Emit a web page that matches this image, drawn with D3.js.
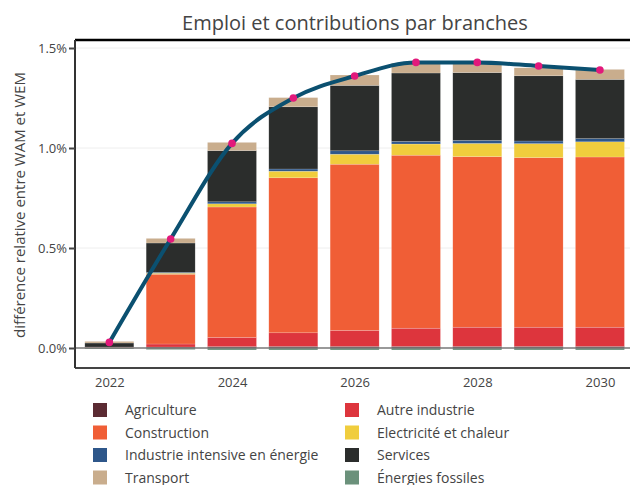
<!DOCTYPE html>
<html><head><meta charset="utf-8">
<script src="https://cdn.jsdelivr.net/npm/d3@7"></script>
<style>
html,body{margin:0;padding:0;background:#fff;}
svg{display:block;font-family:"Open Sans",sans-serif;}
</style></head>
<body>
<svg id="chart" width="630" height="485"></svg>
<script>
// ---- data (values in %) ----
const years = [2022, 2023, 2024, 2025, 2026, 2027, 2028, 2029, 2030];
const agriculture        = [0.003, 0.005, 0.007, 0.008, 0.008, 0.008, 0.008, 0.008, 0.008];
const autreIndustrie     = [0.001, 0.015, 0.046, 0.068, 0.080, 0.091, 0.096, 0.096, 0.096];
const construction       = [0.001, 0.349, 0.652, 0.775, 0.831, 0.865, 0.853, 0.848, 0.851];
const electricite        = [0.000, 0.005, 0.016, 0.033, 0.050, 0.056, 0.066, 0.070, 0.076];
const industrieIntensive = [0.000, 0.004, 0.010, 0.011, 0.017, 0.013, 0.015, 0.013, 0.016];
const services           = [0.020, 0.147, 0.256, 0.311, 0.327, 0.342, 0.339, 0.326, 0.296];
const transport          = [0.008, 0.023, 0.041, 0.046, 0.052, 0.050, 0.050, 0.040, 0.050];
const energiesFossiles   = [-0.005, -0.008, -0.010, -0.010, -0.010, -0.010, -0.010, -0.010, -0.010];
const total              = [0.028, 0.545, 1.023, 1.250, 1.360, 1.428, 1.428, 1.410, 1.390];

const seriesNames = ["Agriculture", "Autre industrie", "Construction", "Electricité et chaleur",
  "Industrie intensive en énergie", "Services", "Transport", "Énergies fossiles"];
const seriesValues = [agriculture, autreIndustrie, construction, electricite,
  industrieIntensive, services, transport, energiesFossiles];
const seriesColors = ["#5b2b33", "#dd353d", "#f05e36", "#f0cd3d", "#2e578a", "#2b2d2c", "#c9ad8d", "#6b917b"];

const yTicks = [0, 0.5, 1.0, 1.5];
const xTicks = [2022, 2024, 2026, 2028, 2030];
const titleText = "Emploi et contributions par branches";
const yTitle = "différence relative entre WAM et WEM";

// ---- layout ----
const svg = d3.select("#chart");
const L = 75, R = 630, T = 40, B = 368;

const x = d3.scaleLinear().domain([2021.44, 2030.5]).range([L, R + 0.6]);
const y = d3.scaleLinear().domain([-0.1, 1.54]).range([B, T]);
const barW = 49;

// gridlines
svg.append("g").selectAll("line").data(yTicks.filter(d => d !== 0)).join("line")
  .attr("x1", L).attr("x2", R).attr("y1", d => y(d)).attr("y2", d => y(d))
  .attr("stroke", "#eee").attr("stroke-width", 1);

// stacked bars
const rows = years.map((yr, i) => {
  const o = {year: yr};
  seriesNames.forEach((n, k) => o[n] = seriesValues[k][i]);
  return o;
});
const stack = d3.stack().keys(seriesNames).offset(d3.stackOffsetDiverging);
const stacked = stack(rows);

const gBars = svg.append("g");
stacked.forEach((s, k) => {
  gBars.append("g").attr("fill", seriesColors[k])
    .selectAll("rect").data(s).join("rect")
    .attr("x", d => x(d.data.year) - barW / 2)
    .attr("width", barW)
    .attr("y", d => y(Math.max(d[0], d[1])))
    .attr("height", d => Math.abs(y(d[0]) - y(d[1])))
    .attr("stroke", "rgba(255,255,255,0.35)")
    .attr("stroke-width", 0.5);
});

// zero line
svg.append("line").attr("x1", L).attr("x2", R).attr("y1", y(0)).attr("y2", y(0))
  .attr("stroke", "#777").attr("stroke-width", 1.5);

// line
const line = d3.line().x((d, i) => x(years[i])).y(d => y(d)).curve(d3.curveMonotoneX);
svg.append("path").datum(total).attr("d", line)
  .attr("fill", "none").attr("stroke", "#0b5070").attr("stroke-width", 4)
  .attr("stroke-linejoin", "round");
svg.append("g").selectAll("circle").data(total).join("circle")
  .attr("cx", (d, i) => x(years[i])).attr("cy", d => y(d)).attr("r", 3.8)
  .attr("fill", "#e2197b");

// axes frame
svg.append("line").attr("x1", L).attr("x2", R).attr("y1", T).attr("y2", T)
  .attr("stroke", "#000").attr("stroke-width", 2.5);
svg.append("line").attr("x1", L).attr("x2", R).attr("y1", B).attr("y2", B)
  .attr("stroke", "#444").attr("stroke-width", 2);

// y axis
const yAxis = d3.axisLeft(y).tickValues(yTicks).tickSize(6).tickPadding(2)
  .tickFormat(d => d.toFixed(1) + "%");
const gy = svg.append("g").attr("transform", `translate(${L},0)`).call(yAxis);
gy.select(".domain").attr("stroke", "#333").attr("stroke-width", 2)
  .attr("d", `M0,${T}V${B}`);
gy.selectAll(".tick line").attr("stroke", "#444").attr("stroke-width", 2);
gy.selectAll(".tick text").attr("fill", "#444").attr("font-size", 13)
  .attr("font-family", "Open Sans");

// x axis
const xAxis = d3.axisBottom(x).tickValues(xTicks).tickSize(0).tickPadding(10)
  .tickFormat(d3.format("d"));
const gx = svg.append("g").attr("transform", `translate(0,${B})`).call(xAxis);
gx.select(".domain").remove();
gx.selectAll(".tick text").attr("fill", "#444").attr("font-size", 13)
  .attr("font-family", "Open Sans");

// title
svg.append("text").attr("x", 355).attr("y", 30).attr("text-anchor", "middle")
  .attr("font-size", 20).attr("fill", "#444").text(titleText);

// y title
svg.append("text").attr("transform", `translate(25,${(T + B) / 2 + 1}) rotate(-90)`)
  .attr("text-anchor", "middle").attr("font-size", 15).attr("fill", "#444").text(yTitle);

// legend
const legendOrder = [0, 2, 4, 6, 1, 3, 5, 7];
const leg = svg.append("g");
legendOrder.forEach((k, j) => {
  const col = Math.floor(j / 4), row = j % 4;
  const lx = col === 0 ? 93 : 345;
  const ly = 410 + row * 22.5;
  leg.append("rect").attr("x", lx).attr("y", ly - 7).attr("width", 14).attr("height", 14)
    .attr("fill", seriesColors[k]);
  leg.append("text").attr("x", lx + 32).attr("y", ly + 5).attr("font-size", 14)
    .attr("fill", "#444").text(seriesNames[k]);
});
</script>
</body></html>
